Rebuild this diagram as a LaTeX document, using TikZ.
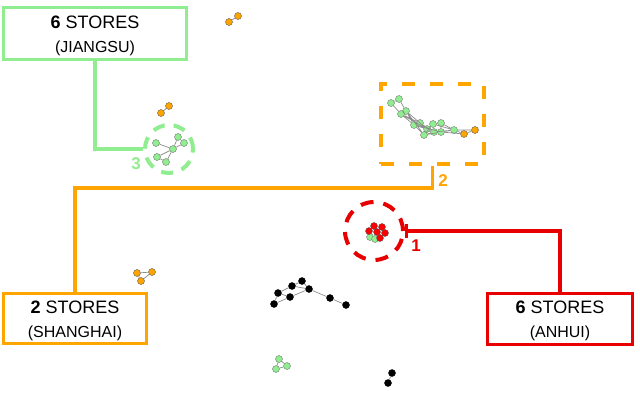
\documentclass[tikz,border=0pt]{standalone}
\usepackage{fontspec}
\setmainfont{Liberation Sans}
\usetikzlibrary{arrows.meta}
\definecolor{lgreen}{RGB}{144,238,144}
\definecolor{orng}{RGB}{255,165,0}
\definecolor{rd}{RGB}{232,0,0}
\definecolor{edgegray}{RGB}{140,140,140}
\begin{document}
\begin{tikzpicture}[x=1pt,y=-1pt,
  sbox/.style={draw, line width=3.2pt, rectangle, inner sep=0pt, align=center, font=\fontsize{18}{23}\selectfont},
  conn/.style={line width=3.2pt},
  ring/.style={circle, draw, line width=4pt, inner sep=0pt},
  num/.style={font=\fontsize{17}{17}\selectfont\bfseries, inner sep=0pt},
  gn/.style={circle, draw=black!55, fill=lgreen, line width=0.4pt, inner sep=0pt, minimum size=7pt},
  ornode/.style={gn, fill=orng, draw=black!65},
  rnode/.style={gn, fill=red, draw=black!65},
  bnode/.style={gn, fill=black, draw=black},
  ed/.style={draw=edgegray, line width=0.7pt}]
\useasboundingbox (0,0) rectangle (640,400);

% boxes
\node[sbox, draw=lgreen, minimum width=183pt, minimum height=52pt] (js) at (95,33.5)
  {\rule{0pt}{17pt}\textbf{6} STORES\\[1pt]{\fontsize{16}{23}\selectfont(JIANGSU)}};
\node[sbox, draw=orng, minimum width=143pt, minimum height=50pt] (sh) at (75,318.5)
  {\rule{0pt}{17pt}\textbf{2} STORES\\[1pt]{\fontsize{16}{23}\selectfont(SHANGHAI)}};
\node[sbox, draw=rd, minimum width=145pt, minimum height=51pt] (ah) at (560,319)
  {\rule{0pt}{17pt}\textbf{6} STORES\\[1pt]{\fontsize{16}{23}\selectfont(ANHUI)}};

% highlight marks
\node[ring, draw=lgreen, minimum size=48pt, dash pattern=on 12pt off 9pt] (c3) at (169,149) {};
\node[ring, draw=rd, minimum size=58pt, dash pattern=on 13pt off 10pt] (c1) at (374,231) {};
\node[rectangle, draw=orng, line width=4pt, inner sep=0pt, minimum width=103pt, minimum height=80pt,
  dash pattern=on 13pt off 15pt] (dbox) at (432.5,124) {};

% connectors
\draw[conn, lgreen] (js.south) |- (c3.west);
\draw[conn, orng] (dbox.south) -- ++(0,22) -| (sh.north);
\draw[conn, rd, {Bar[width=14pt,line width=3pt]}-] (c1.east) -| (ah.north);

% labels
\node[num, text=lgreen] (l3) at (136,164) {3};
\node[num, text=orng] (l2) at (443,181) {2};
\node[num, text=rd] (l1) at (416,246) {1};

% orange pairs
\node[ornode] (p1) at (229,22) {};
\node[ornode] (p2) at (238,16) {};
\draw[ed] (p1) -- (p2);
\node[ornode] (q1) at (161,113) {};
\node[ornode] (q2) at (169,106) {};
\draw[ed] (q1) -- (q2);

% green network in circle 3
\node[gn] (a1) at (156,143) {};
\node[gn] (a2) at (178,137) {};
\node[gn] (a3) at (184,143) {};
\node[gn] (a4) at (173,149) {};
\node[gn] (a5) at (157,157) {};
\node[gn] (a6) at (166,162) {};
\draw[ed] (a1) -- (a4) (a2) -- (a4) (a2) -- (a3) (a3) -- (a4) (a4) -- (a5) (a4) -- (a6) (a5) -- (a6);

% network in dashed box
\foreach \n/\x/\y in {b1/391/103, b2/399/99, b3/406/111, b4/401/114, b5/414/125, b6/420/123, b7/424/135,
  b8/427/129, b9/433/124, b10/441/123, b11/434/132, b12/441/132, b13/454/130}
  \node[gn] (\n) at (\x,\y) {};
\node[ornode] (o1) at (464,134) {};
\node[ornode] (o2) at (475,130) {};
\draw[ed] (b1) -- (b2) (b2) -- (b3) (b3) -- (b4) (b4) -- (b1)
  (b3) -- (b5) (b4) -- (b5) (b4) -- (b6) (b3) -- (b7) (b3) -- (b8) (b4) -- (b8) (b5) -- (b6) (b5) -- (b7)
  (b6) -- (b8) (b5) -- (b8) (b7) -- (b9) (b8) -- (b9) (b9) -- (b10) (b8) -- (b11) (b7) -- (b12) (b11) -- (b12)
  (b10) -- (b12) (b9) -- (b13) (b11) -- (b13) (b12) -- (b13) (b7) -- (b11) (b10) -- (b13) (b6) -- (b11)
  (b13) -- (o1) (b13) -- (o2) (o1) -- (o2) (b12) -- (o1) (b5) -- (b12);

% red cluster
\node[gn] (r7) at (370,237) {};
\node[gn] (r8) at (375,239) {};
\node[rnode] (r1) at (369,231) {};
\node[rnode] (r2) at (374,226) {};
\node[rnode] (r3) at (382,227) {};
\node[rnode] (r4) at (377,232) {};
\node[rnode] (r6) at (385,233) {};
\node[rnode] (r5) at (380,238) {};

% orange triangle
\node[ornode] (t1) at (137,273) {};
\node[ornode] (t2) at (152,272) {};
\node[ornode] (t3) at (141,281) {};
\draw[ed] (t1) -- (t2) -- (t3) -- (t1);

% black network
\foreach \n/\x/\y in {k1/274/304, k2/278/293, k3/290/297, k4/292/286, k5/302/281, k6/309/289, k7/330/298, k8/346/305}
  \node[bnode] (\n) at (\x,\y) {};
\draw[ed] (k1) -- (k2) (k1) -- (k3) (k2) -- (k4) (k2) -- (k3) (k4) -- (k5) (k4) -- (k6) (k5) -- (k6)
  (k3) -- (k6) (k6) -- (k7) (k7) -- (k8);

% green triangle
\node[gn] (u1) at (279,359) {};
\node[gn] (u2) at (276,369) {};
\node[gn] (u3) at (287,366) {};
\draw[ed] (u1) -- (u2) -- (u3) -- (u1);

% black pair
\node[bnode] (v1) at (392,373) {};
\node[bnode] (v2) at (388,383) {};
\draw[ed] (v1) -- (v2);
\end{tikzpicture}
\end{document}
